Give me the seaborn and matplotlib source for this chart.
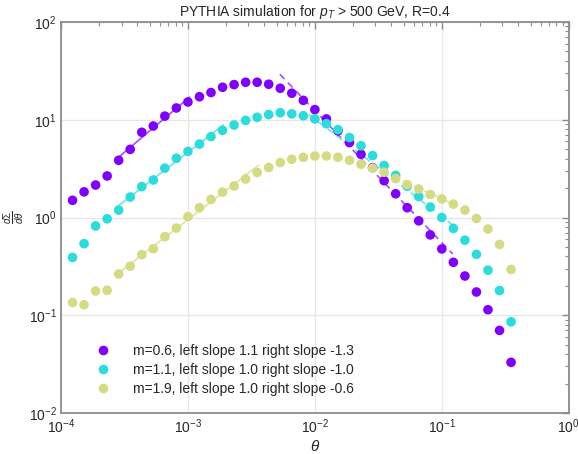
import numpy as np
import pandas as pd
import matplotlib
matplotlib.use("Agg")
import matplotlib.pyplot as plt
import seaborn as sns

# bin centres in theta (11 per decade)
theta = [1.233e-4, 1.520e-4, 1.874e-4, 2.310e-4, 2.848e-4, 3.511e-4, 4.329e-4, 5.337e-4, 6.579e-4, 8.111e-4,
         1.0e-3, 1.233e-3, 1.520e-3, 1.874e-3, 2.310e-3, 2.848e-3, 3.511e-3, 4.329e-3, 5.337e-3, 6.579e-3, 8.111e-3,
         1.0e-2, 1.233e-2, 1.520e-2, 1.874e-2, 2.310e-2, 2.848e-2, 3.511e-2, 4.329e-2, 5.337e-2, 6.579e-2, 8.111e-2,
         0.1, 0.1233, 0.1520, 0.1874, 0.2310, 0.2848, 0.3511]

m06 = [1.50, 1.83, 2.15, 2.66, 3.85, 4.98, 7.45, 8.63, 10.9, 13.2, 15.2,
       17.2, 19.0, 21.5, 22.9, 24.2, 24.2, 23.1,
       21.0, 18.7, 15.8, 12.7, 10.2, 7.7, 5.84, 4.43, 3.24, 2.38, 1.75, 1.26,
       0.925, 0.664, 0.477, 0.348, 0.252, 0.173, 0.114, 0.070, 0.033]
m11 = [0.39, 0.54, 0.82, 0.97, 1.19, 1.62, 2.07, 2.42, 3.20, 4.04, 4.75,
       5.64, 6.73, 7.80, 8.83, 9.85, 10.6, 11.3,
       11.8, 11.5, 11.0, 10.2, 9.12, 7.92, 6.58, 5.42, 4.30, 3.40, 2.70, 2.09,
       1.64, 1.28, 1.0, 0.774, 0.586, 0.420, 0.289, 0.179, 0.0857]
m19 = [0.135, 0.128, 0.177, 0.18, 0.264, 0.318, 0.417, 0.479, 0.638, 0.78, 1.02,
       1.26, 1.53, 1.82, 2.10, 2.48, 2.89, 3.25,
       3.65, 3.94, 4.13, 4.26, 4.26, 4.13, 3.85, 3.51, 3.20, 2.91, 2.50, 2.17,
       1.96, 1.72, 1.55, 1.37, 1.19, 0.977, 0.762, 0.530, 0.294]

labels = ["m=0.6, left slope 1.1 right slope -1.3",
          "m=1.1, left slope 1.0 right slope -1.0",
          "m=1.9, left slope 1.0 right slope -0.6"]
colors = ["#8000ff", "#2adcdc", "#d4db82"]
line_colors = ["#a54dff", "#6ae6e6", "#dfe4a4"]

# power-law fits: (norm at x0, slope, x range)
left_norm = [16.5, 4.65, 0.95]      # value at theta=1e-3
left_slope = [1.1, 1.0, 1.0]
left_range = [(2.7e-4, 1.03e-3), (2.75e-4, 1.9e-3), (2.75e-4, 3.6e-3)]
right_norm = [12.4, 10.2, 6.17]     # value at theta=1e-2
right_slope = [-1.35, -1.0, -0.6]
right_range = [(5.3e-3, 0.122), (9.0e-3, 0.122), (2.3e-2, 0.122)]

sns.set_style("white")
plt.rcParams['font.family'] = ['Liberation Sans', 'DejaVu Sans']
plt.rcParams['mathtext.fontset'] = 'custom'
plt.rcParams['mathtext.rm'] = 'Liberation Sans'
plt.rcParams['mathtext.it'] = 'Liberation Sans:italic'

df = pd.DataFrame({
    "theta": theta * 3,
    "value": m06 + m11 + m19,
    "series": [labels[0]] * len(theta) + [labels[1]] * len(theta) + [labels[2]] * len(theta),
})

fig, ax = plt.subplots(figsize=(5.78, 4.54), dpi=100)
fig.subplots_adjust(left=0.1055, right=0.984, top=0.9515, bottom=0.0903)

# fit lines
for i in range(3):
    xl = np.geomspace(left_range[i][0], left_range[i][1], 20)
    ax.plot(xl, left_norm[i] * (xl / 1e-3) ** left_slope[i], color=line_colors[i], lw=1.2, zorder=2)
    xr = np.geomspace(right_range[i][0], right_range[i][1], 20)
    ax.plot(xr, right_norm[i] * (xr / 1e-2) ** right_slope[i], color=line_colors[i], lw=1.2,
            ls=(0, (4, 3)), zorder=2)

sns.scatterplot(data=df, x="theta", y="value", hue="series", hue_order=labels,
                palette=colors, s=48, linewidth=0, ax=ax, zorder=3)

ax.set_xscale("log")
ax.set_yscale("log")
ax.set_xlim(1e-4, 1)
ax.set_ylim(1e-2, 1e2)

ax.grid(True, which="major", color="#e6e6e6", lw=0.9)
ax.set_axisbelow(True)
for sp in ax.spines.values():
    sp.set_color("#8c8c8c")
    sp.set_linewidth(1.3)
ax.tick_params(which="both", direction="in", top=True, right=True, color="#8c8c8c")
ax.tick_params(which="major", length=5, width=1, labelsize=10, pad=3)
ax.tick_params(which="minor", length=3, width=0.8)

ax.set_title(r"PYTHIA simulation for $p_T$ > 500 GeV, R=0.4", fontsize=10, pad=4)
ax.set_xlabel(r"$\theta$", fontsize=11, labelpad=2)
ax.set_ylabel(r"$\frac{d\Sigma}{d\theta}$", fontsize=10, labelpad=2)

leg = ax.legend(loc="lower left", bbox_to_anchor=(0.03, 0.012), frameon=False, fontsize=10,
                handletextpad=1.2, labelspacing=0.35, markerscale=1.0)

fig.savefig("out.png", dpi=100)
